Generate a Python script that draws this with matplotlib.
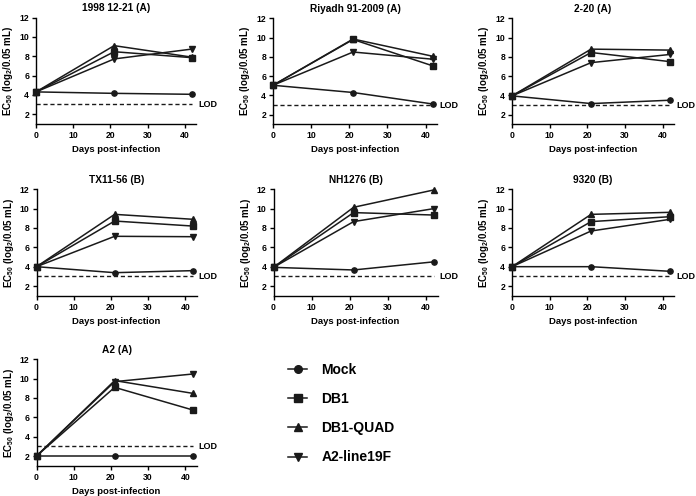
import matplotlib
matplotlib.use("Agg")
import matplotlib.pyplot as plt
from matplotlib.lines import Line2D

plt.rcParams['font.family'] = ['Liberation Sans', 'DejaVu Sans']
plt.rcParams['font.weight'] = 'bold'
plt.rcParams['mathtext.fontset'] = 'custom'
plt.rcParams['mathtext.rm'] = 'Liberation Sans:bold'
plt.rcParams['mathtext.default'] = 'rm'

days = [0, 21, 42]
groups = ["Mock", "DB1", "DB1-QUAD", "A2-line19F"]
markers = ["o", "s", "^", "v"]
lod = 3

titles = ["1998 12-21 (A)", "Riyadh 91-2009 (A)", "2-20 (A)",
          "TX11-56 (B)", "NH1276 (B)", "9320 (B)", "A2 (A)"]

mock = [[4.3, 4.15, 4.05], [5.05, 4.3, 3.1], [3.95, 3.15, 3.5],
        [4.0, 3.38, 3.59], [3.93, 3.66, 4.5], [4.0, 4.0, 3.52], [2.0, 2.0, 2.0]]
db1 = [[4.3, 8.47, 7.85], [5.05, 9.8, 7.05], [3.95, 8.45, 7.5],
       [4.0, 8.72, 8.2], [3.93, 9.59, 9.34], [4.0, 8.66, 9.17], [2.0, 9.1, 6.76]]
quad = [[4.3, 9.1, 7.9], [5.05, 9.85, 8.05], [3.95, 8.8, 8.7],
        [4.0, 9.41, 8.9], [3.93, 10.14, 11.93], [4.0, 9.41, 9.62], [2.0, 9.8, 8.48]]
a2line = [[4.3, 7.72, 8.75], [5.05, 8.5, 7.75], [3.95, 7.4, 8.25],
          [4.0, 7.14, 7.1], [3.93, 8.66, 10.0], [4.0, 7.69, 8.9], [2.0, 9.69, 10.48]]

# axes boxes in pixels: left, top, width, height (figure 696x496)
W, H = 696, 496
boxes = [(36, 17.7, 160, 106), (273, 18.3, 164, 106), (512, 18.3, 162, 106),
         (36.5, 189.3, 160, 106.4), (273.5, 189.3, 164, 106.4), (512, 189.3, 162, 106.4),
         (36.5, 359.3, 160, 106.4)]

fig = plt.figure(figsize=(6.96, 4.96), dpi=100)
col = "#1a1a1a"

for i in range(7):
    l, t, w, h = boxes[i]
    ax = fig.add_axes([l / W, 1 - (t + h) / H, w / W, h / H])
    for vals, m in zip([mock[i], db1[i], quad[i], a2line[i]], markers):
        ax.plot(days, vals, marker=m, color=col, lw=1.1, ms=3.8, clip_on=False, zorder=3)
    ax.plot([0, 42], [lod, lod], color=col, lw=1.0, dashes=(3, 2))
    ax.text(43.6, lod, "LOD", fontsize=6.5, fontweight="bold", va="center", ha="left")
    ax.set_xlim(0, 43)
    ax.set_ylim(1, 12)
    ax.set_xticks([0, 10, 20, 30, 40])
    ax.set_yticks([2, 4, 6, 8, 10, 12])
    ax.spines["top"].set_visible(False)
    ax.spines["right"].set_visible(False)
    ax.spines["left"].set_linewidth(1.0)
    ax.spines["bottom"].set_linewidth(1.0)
    ax.tick_params(labelsize=6.2, length=3, width=1.0, pad=2)
    for lab in ax.get_xticklabels() + ax.get_yticklabels():
        lab.set_fontweight("bold")
    ax.set_title(titles[i], fontsize=7.3, fontweight="bold", pad=4.5)
    ax.set_xlabel("Days post-infection", fontsize=6.8, fontweight="bold", labelpad=3.5)
    ax.set_ylabel(r"EC$_{50}$ (log$_{2}$/0.05 mL)", fontsize=7.0, fontweight="bold", labelpad=3)

handles = [Line2D([0], [0], color=col, marker=m, lw=1.1, ms=5.5) for m in markers]
fig.legend(handles, groups, loc="center left", bbox_to_anchor=(288 / W, 1 - 413.5 / H),
           frameon=False, prop={"weight": "bold", "size": 10}, handlelength=1.4,
           handletextpad=1.0, labelspacing=1.1, borderpad=0, borderaxespad=0)

fig.savefig("out.png", dpi=100)
